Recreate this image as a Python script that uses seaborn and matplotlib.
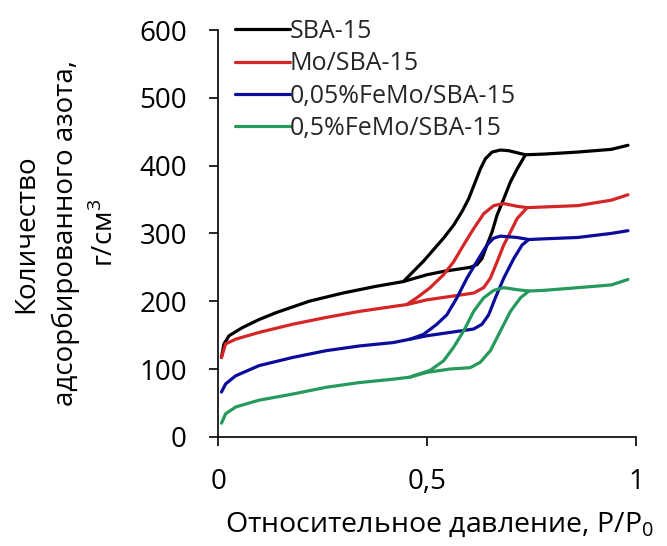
import numpy as np
import pandas as pd
import matplotlib
matplotlib.use("Agg")
import matplotlib.pyplot as plt
import seaborn as sns

# Nitrogen adsorption–desorption isotherms (P/P0 vs adsorbed volume, cm3/g)
samples = ["SBA-15", "Mo/SBA-15", "0,05%FeMo/SBA-15", "0,5%FeMo/SBA-15"]
colors = ["#000000", "#d42626", "#0c0c9c", "#26995c"]

# adsorption branch (low pressure part, capillary condensation step, plateau)
sba_ads_x = [0.008, 0.014, 0.026, 0.058, 0.098, 0.138, 0.218, 0.298, 0.378, 0.443,
             0.499, 0.539, 0.603, 0.619, 0.631, 0.643, 0.655, 0.667, 0.683, 0.699,
             0.715, 0.735, 0.779, 0.860, 0.940, 0.980]
sba_ads_y = [117, 137, 149, 161, 173, 183, 200, 212, 222, 229,
             239, 244, 250, 254, 263, 283, 302, 327, 351, 376,
             395, 416, 417, 420, 424, 430]
sba_des_x = [0.735, 0.715, 0.695, 0.675, 0.655, 0.639, 0.627, 0.615, 0.599, 0.583,
             0.563, 0.539, 0.515, 0.491, 0.467, 0.443]
sba_des_y = [416, 419, 422, 423, 420, 410, 395, 376, 351, 332,
             312, 293, 276, 259, 244, 229]

mo_ads_x = [0.008, 0.018, 0.042, 0.098, 0.178, 0.258, 0.338, 0.427, 0.451,
            0.499, 0.555, 0.611, 0.635, 0.651, 0.667, 0.683, 0.699, 0.715, 0.739,
            0.779, 0.860, 0.940, 0.980]
mo_ads_y = [117, 137, 144, 154, 166, 176, 185, 193, 195,
            202, 207, 212, 220, 234, 258, 283, 302, 322, 338,
            339, 341, 349, 357]
mo_des_x = [0.739, 0.715, 0.683, 0.659, 0.635, 0.611, 0.587, 0.563, 0.539, 0.507,
            0.475, 0.451]
mo_des_y = [338, 340, 344, 341, 329, 307, 283, 258, 239, 220,
            205, 195]

fe005_ads_x = [0.008, 0.018, 0.042, 0.098, 0.178, 0.258, 0.338, 0.419, 0.459,
               0.499, 0.555, 0.611, 0.631, 0.647, 0.663, 0.683, 0.707, 0.727, 0.743,
               0.779, 0.860, 0.940, 0.980]
fe005_ads_y = [66, 78, 90, 105, 117, 127, 134, 139, 144,
               149, 154, 159, 166, 180, 205, 234, 263, 283, 291,
               292, 294, 300, 304]
fe005_des_x = [0.743, 0.715, 0.675, 0.659, 0.643, 0.619, 0.595, 0.571, 0.547, 0.523,
               0.491, 0.459]
fe005_des_y = [291, 294, 296, 293, 283, 259, 234, 205, 180, 166,
               151, 144]

fe05_ads_x = [0.008, 0.018, 0.042, 0.098, 0.178, 0.258, 0.338, 0.419, 0.459,
              0.499, 0.555, 0.603, 0.627, 0.651, 0.675, 0.699, 0.723, 0.743,
              0.779, 0.860, 0.940, 0.980]
fe05_ads_y = [20, 34, 44, 54, 63, 73, 80, 85, 88,
              95, 100, 102, 110, 127, 156, 185, 205, 215,
              216, 220, 224, 232]
fe05_des_x = [0.743, 0.715, 0.683, 0.659, 0.635, 0.611, 0.587, 0.563, 0.539, 0.507,
              0.467, 0.459]
fe05_des_y = [215, 217, 220, 216, 205, 185, 156, 132, 112, 98,
              90, 88]

xticks = [0, 0.5, 1]
xticklabels = ["0", "0,5", "1"]
yticks = [0, 100, 200, 300, 400, 500, 600]

branches = [
    (samples[0], "ads", sba_ads_x, sba_ads_y), (samples[0], "des", sba_des_x, sba_des_y),
    (samples[1], "ads", mo_ads_x, mo_ads_y), (samples[1], "des", mo_des_x, mo_des_y),
    (samples[2], "ads", fe005_ads_x, fe005_ads_y), (samples[2], "des", fe005_des_x, fe005_des_y),
    (samples[3], "ads", fe05_ads_x, fe05_ads_y), (samples[3], "des", fe05_des_x, fe05_des_y),
]
rows = []
for name, br, xs, ys in branches:
    for i, (x, y) in enumerate(zip(xs, ys)):
        rows.append({"sample": name, "branch": br, "order": i, "p": x, "v": y})
df = pd.DataFrame(rows)

sns.set_theme(style="white")
plt.rcParams["font.family"] = ["Open Sans", "DejaVu Sans"]
plt.rcParams["mathtext.fontset"] = "custom"
plt.rcParams["mathtext.rm"] = "Open Sans"

fig = plt.figure(figsize=(6.67, 5.46), dpi=100)
ax = fig.add_axes([0.327, 0.2, 0.627, 0.745])

palette = dict(zip(samples, colors))
for br in ["ads", "des"]:
    sub = df[df["branch"] == br]
    sns.lineplot(data=sub, x="p", y="v", hue="sample", hue_order=samples,
                 palette=palette, units="sample", estimator=None, sort=False,
                 linewidth=2.3, legend=(br == "ads"), ax=ax,
                 solid_joinstyle="round", solid_capstyle="round")

ax.set_xlim(0, 1)
ax.set_ylim(0, 600)
ax.set_xticks(xticks)
ax.set_xticklabels(xticklabels)
ax.set_yticks(yticks)
for s in ["top", "right"]:
    ax.spines[s].set_visible(False)
for s in ["left", "bottom"]:
    ax.spines[s].set_color("black")
    ax.spines[s].set_linewidth(1.2)
ax.tick_params(axis="both", direction="out", length=6.5, width=1.2, color="black",
               labelsize=20, labelcolor="black", pad=16)
ax.tick_params(axis="both", which="both", bottom=True, left=True)

ax.set_xlabel("Относительное давление, P/P$_0$", fontsize=20.5, color="black",
              ha="left")
ax.xaxis.set_label_coords(0.017, -0.183)
ax.set_ylabel("Количество\nадсорбированного азота,\nг/см$^3$", fontsize=20,
              color="black", linespacing=1.5)
ax.yaxis.set_label_coords(-0.235, 0.5)

leg = ax.legend(loc="upper left", bbox_to_anchor=(0.04, 1.027), frameon=False,
                fontsize=18, handlelength=2.2, handletextpad=0.0, labelspacing=0.29,
                borderaxespad=0, borderpad=0)
for h in leg.get_lines():
    h.set_linewidth(2.3)

fig.savefig("out.png", dpi=100)
